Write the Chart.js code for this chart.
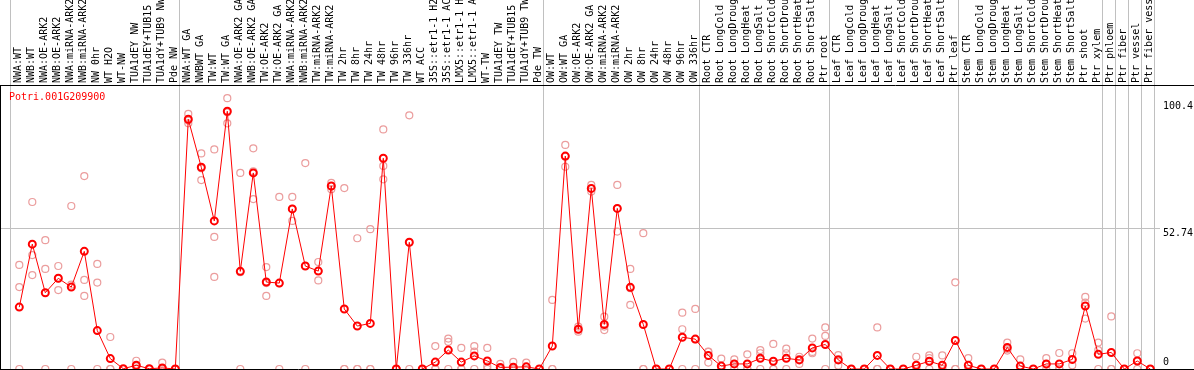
<!DOCTYPE html>
<html>
<head>
<meta charset="utf-8">
<script src="https://cdn.jsdelivr.net/npm/chart.js@4/dist/chart.umd.min.js"></script>
<style>
  html, body { margin: 0; padding: 0; background: #fff; }
  canvas { display: block; }
</style>
</head>
<body>
<canvas id="expr" width="1194" height="370"></canvas>
<script>
// Potri.001G209900 expression across samples
const geneId = 'Potri.001G209900';

const samples = [
  'NWA:WT', 'NWB:WT', 'NWA:OE-ARK2', 'NWB:OE-ARK2', 'NWA:miRNA-ARK2', 'NWB:miRNA-ARK2',
  'NW 0hr', 'WT H2O', 'WT-NW', 'TUA1dEY NW', 'TUA1dEY+TUB15 NW', 'TUA1dY+TUB9 NW', 'Pde NW',
  'NWA:WT GA', 'NWBWT GA', 'TW:WT', 'TW:WT GA', 'NWA:OE-ARK2 GA', 'NWB:OE-ARK2 GA',
  'TW:OE-ARK2', 'TW:OE-ARK2 GA', 'NWA:miRNA-ARK2 GA', 'NWB:miRNA-ARK2 GA', 'TW:miRNA-ARK2',
  'TW:miRNA-ARK2 GA', 'TW 2hr', 'TW 8hr', 'TW 24hr', 'TW 48hr', 'TW 96hr', 'TW 336hr',
  'WT ACC', '35S::etr1-1 H2O', '35S::etr1-1 ACC', 'LMX5::etr1-1 H2O', 'LMX5::etr1-1 ACC',
  'WT-TW', 'TUA1dEY TW', 'TUA1dEY+TUB15 TW', 'TUA1dY+TUB9 TW', 'Pde TW',
  'OW:WT', 'OW:WT GA', 'OW:OE-ARK2', 'OW:OE-ARK2 GA', 'OW:miRNA-ARK2', 'OW:miRNA-ARK2 GA',
  'OW 2hr', 'OW 8hr', 'OW 24hr', 'OW 48hr', 'OW 96hr', 'OW 336hr',
  'Root CTR', 'Root LongCold', 'Root LongDrought', 'Root LongHeat', 'Root LongSalt',
  'Root ShortCold', 'Root ShortDrought', 'Root ShortHeat', 'Root ShortSalt', 'Ptr root',
  'Leaf CTR', 'Leaf LongCold', 'Leaf LongDrought', 'Leaf LongHeat', 'Leaf LongSalt',
  'Leaf ShortCold', 'Leaf ShortDrought', 'Leaf ShortHeat', 'Leaf ShortSalt', 'Ptr leaf',
  'Stem CTR', 'Stem LongCold', 'Stem LongDrought', 'Stem LongHeat', 'Stem LongSalt',
  'Stem ShortCold', 'Stem ShortDrought', 'Stem ShortHeat', 'Stem ShortSalt', 'Ptr shoot',
  'Ptr xylem', 'Ptr phloem', 'Ptr fiber', 'Ptr vessel', 'Ptr fiber vessel'
];

// sample count at the end of each experiment group (grey separators)
const groupEnds = [0, 13, 41, 53, 63, 73, 84, 85, 86, 87, 88];

const meanExpr = [
  23.2, 46.8, 28.6, 34.0, 30.7, 44.1, 14.4, 3.9, 0.1, 1.4, 0.1, 0.4, 0,
  93.6, 75.6, 55.5, 96.6, 36.6, 73.5, 32.6, 32.2, 60.0, 38.6, 36.7, 68.6, 22.5, 16.1, 17.1, 79.0,
  0, 47.5, 0, 2.6, 7.1, 2.6, 4.9, 3.0, 0.6, 0.7, 0.8, 0,
  8.6, 79.8, 14.9, 67.7, 16.7, 60.2, 30.6, 16.7, 0, 0, 11.9, 11.2,
  5.1, 1.1, 1.9, 1.9, 4.0, 2.9, 4.0, 3.4, 7.9, 9.2,
  3.4, 0, 0, 5.1, 0, 0, 1.4, 2.9, 1.4, 10.7,
  1.4, 0, 0, 8.1, 1.1, 0, 1.9, 1.9, 3.6, 23.6, 5.5,
  6.2, 0, 3.0, 0
];

const rep1 = [
  39.0, 62.6, 48.3, 38.6, 61.1, 72.3, 39.4, 12.0, 0, 3.1, 0, 2.4, 0,
  95.6, 80.8, 82.3, 101.5, 73.5, 82.7, 38.2, 64.5, 64.5, 77.2, 40.1, 69.8, 67.8, 49.0, 52.4, 89.8,
  0, 95.1, 0, 8.6, 11.4, 7.9, 8.6, 7.9, 1.9, 2.7, 2.4, 0,
  25.9, 84.0, 15.9, 69.0, 19.6, 69.0, 37.5, 50.9, 0, 0, 21.1, 22.5,
  6.4, 3.9, 3.6, 5.5, 7.1, 9.4, 7.6, 4.6, 11.4, 15.6,
  5.2, 0, 0, 15.6, 0, 0, 4.6, 5.1, 5.1, 32.5,
  4.1, 0, 0, 9.9, 3.6, 0, 4.1, 6.0, 5.9, 27.0, 9.9,
  19.7, 0, 5.9, 0
];

const rep2 = [
  30.7, 35.2, 37.5, 29.6, 31.6, 33.4, 32.4, 0, 0, 0, 0, 0, 0,
  92.1, 70.8, 49.5, 92.1, 0, 63.7, 27.4, 0, 55.5, 0, 33.2, 68.6, 0, 0, 0, 76.1,
  0, 0, 0, 0, 10.2, 0, 6.5, 1.0, 0, 0, 0, 0,
  0, 75.8, 14.0, 66.5, 14.6, 51.5, 24.0, 0, 0, 0, 14.9, 0,
  2.4, 0, 1.9, 0, 5.9, 0, 5.9, 1.9, 5.9, 12.4,
  1.3, 0, 0, 0, 0, 0, 0, 4.1, 0, 0,
  0, 0, 0, 6.9, 0, 0, 1.6, 0, 1.4, 18.9, 7.1,
  0, 0, 3.1, 0
];

const rep3 = [
  0, 42.7, 0, 34.0, 0, 27.4, 0, 0, 0, 1.1, 0, 0, 0,
  93.1, 75.2, 34.5, 96.2, 36.3, 74.1, 32.2, 32.1, 60.0, 38.6, 36.8, 67.4, 0, 0, 0, 71.1,
  0, 47.4, 0, 0, 0, 0, 0, 0, 0, 0, 0, 0,
  0, 79.6, 14.8, 67.6, 15.9, 60.2, 30.3, 0, 0, 0, 0, 11.1,
  6.5, 0, 0, 0, 0, 0, 0, 3.7, 6.4, 0,
  3.7, 0, 0, 0, 0, 0, 0, 0, 0, 0,
  0, 0, 0, 7.5, 0, 0, 0, 0, 3.5, 24.9, 0,
  0, 0, 0, 0
];

const yTicks = [0, 52.74, 100.4];
const yMax = 106.45;

// layout: sample i sits 0.715 of a slot right of its slot's left edge
const slotShift = 0.715;
const plotLeftSlots = 10 / 13;
const plotRightSlots = 1150 / 13;

const toXY = arr => arr.map((v, i) => ({ x: i, y: v }));

Chart.defaults.font.family = '"DejaVu Sans Mono", monospace';
Chart.defaults.font.size = 10;
Chart.defaults.color = '#000';

const repColor = '#eb9d9d';

function repSet(arr) {
  return {
    data: toXY(arr),
    showLine: false,
    pointRadius: 3.5,
    pointBorderWidth: 1.2,
    pointBorderColor: repColor,
    pointBackgroundColor: 'transparent'
  };
}

function noPad(s) {
  s.paddingLeft = 0; s.paddingRight = 0; s.paddingTop = 0; s.paddingBottom = 0;
}

const framePlugin = {
  id: 'frame',
  beforeDatasetsDraw(chart) {
    const { ctx, chartArea: a, width } = chart;
    ctx.save();
    ctx.strokeStyle = '#000';
    ctx.lineWidth = 1;
    ctx.beginPath();
    ctx.moveTo(0, a.top + 0.5); ctx.lineTo(width, a.top + 0.5);
    ctx.moveTo(0, a.bottom + 0.5); ctx.lineTo(width, a.bottom + 0.5);
    ctx.moveTo(0.5, a.top); ctx.lineTo(0.5, a.bottom);
    ctx.stroke();
    ctx.fillStyle = '#ff0000';
    ctx.font = '10px "DejaVu Sans Mono"';
    ctx.textBaseline = 'alphabetic';
    ctx.textAlign = 'left';
    ctx.fillText(geneId, a.left + 9, a.top + 15);
    ctx.restore();
  }
};

new Chart(document.getElementById('expr').getContext('2d'), {
  type: 'line',
  data: {
    datasets: [
      {
        label: geneId,
        data: toXY(meanExpr),
        borderColor: '#ff0000',
        borderWidth: 1,
        tension: 0,
        pointRadius: 3.5,
        pointBorderWidth: 2,
        pointBorderColor: '#ff0000',
        pointBackgroundColor: 'transparent'
      },
      repSet(rep1),
      repSet(rep2),
      repSet(rep3)
    ]
  },
  options: {
    responsive: false,
    animation: false,
    devicePixelRatio: 1,
    layout: { autoPadding: false, padding: { left: 0, right: 0, top: 0, bottom: 1 } },
    plugins: {
      legend: { display: false },
      tooltip: { enabled: false }
    },
    scales: {
      x: {
        type: 'linear',
        position: 'top',
        min: -plotLeftSlots - slotShift,
        max: plotRightSlots - slotShift,
        afterBuildTicks: s => {
          s.ticks = groupEnds.map(k => ({ value: k - slotShift }))
            .concat(samples.map((_, i) => ({ value: i })));
        },
        afterFit: s => { s.height = 85; noPad(s); },
        border: { display: false },
        grid: {
          color: c => (c.tick && !Number.isInteger(c.tick.value)) ? '#c0c0c0' : 'rgba(0,0,0,0)',
          drawTicks: true,
          tickLength: 85,
          lineWidth: 1
        },
        ticks: {
          autoSkip: false,
          minRotation: 90,
          maxRotation: 90,
          padding: -83,
          labelOffset: 11,
          color: '#000',
          callback: v => Number.isInteger(v) ? samples[v] : ''
        }
      },
      y: {
        type: 'linear',
        position: 'right',
        min: 0,
        max: yMax,
        afterBuildTicks: s => { s.ticks = yTicks.map(v => ({ value: v })); },
        afterFit: s => { s.width = 34; noPad(s); },
        border: { display: false },
        grid: {
          color: c => (c.tick && c.tick.value === 52.74) ? '#c0c0c0' : 'rgba(0,0,0,0)',
          drawTicks: false
        },
        ticks: {
          padding: 3,
          labelOffset: 5,
          color: '#000',
          callback: v => v === 0 ? ['0', '', ''] : String(v)
        }
      }
    }
  },
  plugins: [framePlugin]
});
</script>
</body>
</html>
